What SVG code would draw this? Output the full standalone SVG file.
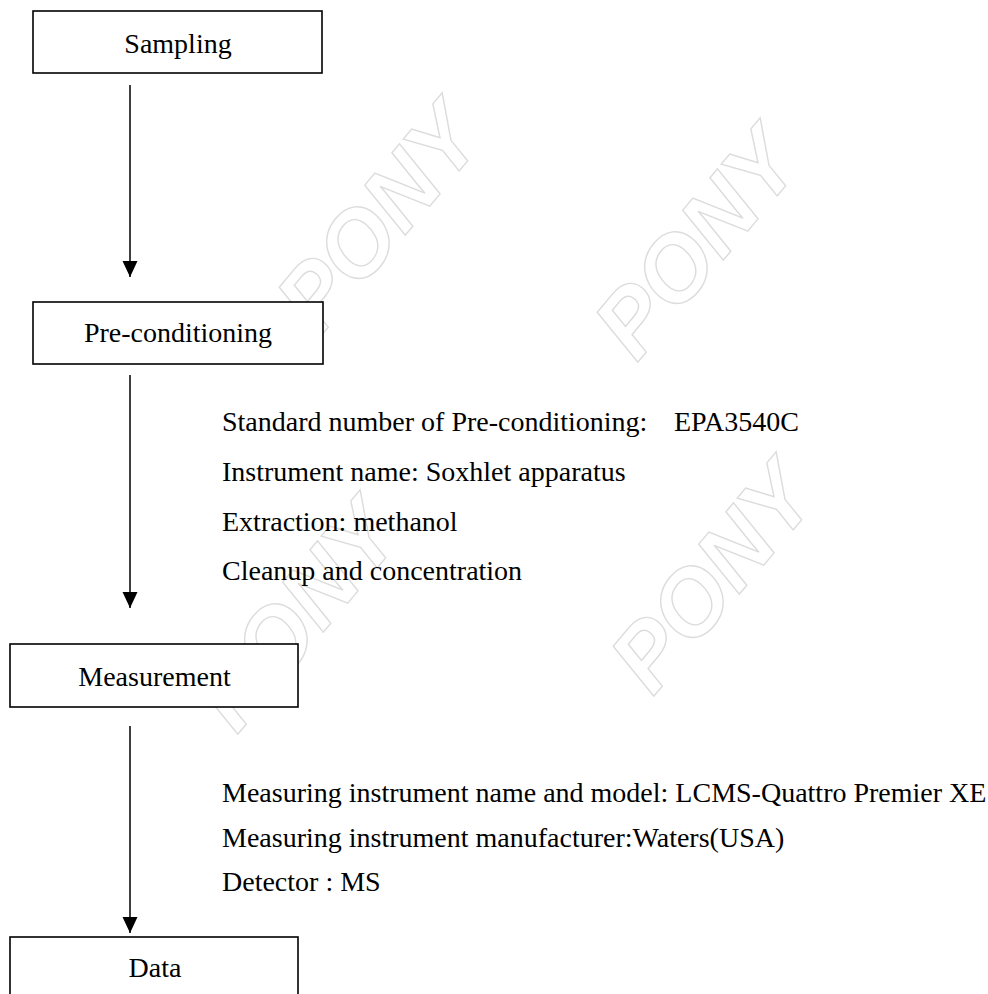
<svg xmlns="http://www.w3.org/2000/svg" width="988" height="994" viewBox="0 0 988 994">
<style>
.box{fill:#fff;stroke:#000;stroke-width:1.6}
.lbl{font-family:"Liberation Serif","Times New Roman",serif;font-size:28px;fill:#000}
.mid{text-anchor:middle}
.wm{font-family:"Liberation Sans",Arial,sans-serif;font-weight:bold;font-style:italic;font-size:92px;fill:none;stroke:#dcdcdc;stroke-width:1.4;text-anchor:middle}
.conn{stroke:#000;stroke-width:1.5;fill:none}
</style>
<defs>
<marker id="ah" markerUnits="userSpaceOnUse" markerWidth="17" markerHeight="16" refX="16" refY="7.5" orient="auto">
<path d="M0,0 L16,7.5 L0,15 z" fill="#000"/>
</marker>
</defs>
<rect width="988" height="994" fill="#fff"/>
<g id="watermark">
<text class="wm" transform="translate(378,218) rotate(-50)" y="32">PONY</text>
<text class="wm" transform="translate(696,243) rotate(-50)" y="32">PONY</text>
<text class="wm" transform="translate(296,615) rotate(-50)" y="32">PONY</text>
<text class="wm" transform="translate(712,577) rotate(-50)" y="32">PONY</text>
</g>
<g id="connectors">
<line class="conn" x1="130" y1="85" x2="130" y2="277" marker-end="url(#ah)"/>
<line class="conn" x1="130" y1="375" x2="130" y2="608" marker-end="url(#ah)"/>
<line class="conn" x1="130" y1="726" x2="130" y2="933" marker-end="url(#ah)"/>
</g>
<g id="sampling">
<rect class="box" x="33" y="11" width="289" height="62"/>
<text class="lbl mid" x="178" y="53">Sampling</text>
</g>
<g id="preconditioning">
<rect class="box" x="33" y="302" width="290" height="62"/>
<text class="lbl mid" x="178" y="342">Pre-conditioning</text>
</g>
<g id="preconditioning-notes">
<text class="lbl" x="222" y="431">Standard number of Pre-conditioning:<tspan x="674">EPA3540C</tspan></text>
<text class="lbl" x="222" y="481">Instrument name: Soxhlet apparatus</text>
<text class="lbl" x="222" y="531">Extraction: methanol</text>
<text class="lbl" x="222" y="580">Cleanup and concentration</text>
</g>
<g id="measurement">
<rect class="box" x="10" y="644" width="288" height="63"/>
<text class="lbl mid" x="154.5" y="686">Measurement</text>
</g>
<g id="measurement-notes">
<text class="lbl" x="222" y="802">Measuring instrument name and model: LCMS-Quattro Premier XE</text>
<text class="lbl" x="222" y="847">Measuring instrument manufacturer:Waters(USA)</text>
<text class="lbl" x="222" y="891">Detector : MS</text>
</g>
<g id="data">
<rect class="box" x="10" y="937" width="288" height="70"/>
<text class="lbl mid" x="155" y="977">Data</text>
</g>
</svg>
